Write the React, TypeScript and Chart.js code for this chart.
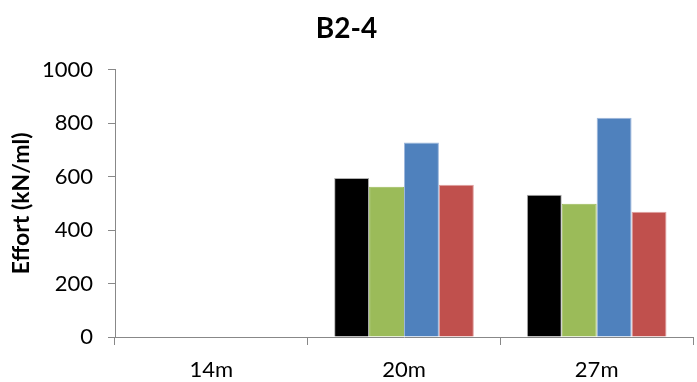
import React, { useEffect, useRef } from "react";
import { Chart, registerables } from "chart.js";

Chart.register(...registerables);

const categories = ["14m", "20m", "27m"];
const seriesBlack = [null, 595, 532];
const seriesGreen = [null, 562, 498];
const seriesBlue = [null, 727, 820];
const seriesRed = [null, 569, 468];
const yTicks = [0, 200, 400, 600, 800, 1000];

const FONT = "Lato, 'Open Sans', sans-serif";

export default function App() {
  const ref = useRef<HTMLCanvasElement>(null);
  useEffect(() => {
    document.body.style.margin = "0";
    const ctx = ref.current!;
    const mk = (label: string, data: (number | null)[], color: string, border: string) => ({
      label,
      data,
      backgroundColor: color,
      borderColor: border,
      borderWidth: 1,
      barPercentage: 1,
      categoryPercentage: 0.725,
    });
    const chart = new Chart(ctx, {
      type: "bar",
      data: {
        labels: categories,
        datasets: [
          mk("A", seriesBlack, "#000000", "#b0b0b0"),
          mk("B", seriesGreen, "#9bbb59", "#9bbb59"),
          mk("C", seriesBlue, "#4f81bd", "#9db7dc"),
          mk("D", seriesRed, "#c0504d", "#e0a0a0"),
        ],
      },
      options: {
        animation: false,
        responsive: false,
        maintainAspectRatio: false,
        layout: { padding: { left: 0, right: 4, top: 0, bottom: 0 } },
        plugins: {
          legend: { display: false },
          tooltip: { enabled: false },
          title: {
            display: true,
            text: "B2-4",
            font: { family: FONT, size: 28, weight: "bold" },
            color: "#000",
            padding: { top: 12, bottom: 24 },
          },
        },
        scales: {
          x: {
            afterFit: (axis: any) => {
              axis.height = 45;
            },
            grid: {
              display: true,
              drawOnChartArea: false,
              drawTicks: true,
              tickLength: 8,
              color: "#888",
              offset: true,
            },
            border: { display: true, color: "#888", width: 1 },
            ticks: {
              font: { family: FONT, size: 22 },
              color: "#000",
              padding: 12,
            },
          },
          y: {
            min: 0,
            max: 1000,
            afterFit: (axis: any) => {
              axis.width = 115;
            },
            afterBuildTicks: (axis: any) => {
              axis.ticks = yTicks.map((v) => ({ value: v }));
            },
            grid: {
              display: true,
              drawOnChartArea: false,
              drawTicks: true,
              tickLength: 7,
              color: "#888",
            },
            border: { display: true, color: "#888", width: 1 },
            ticks: {
              font: { family: FONT, size: 22 },
              color: "#000",
              padding: 15,
              callback: (v: any) => String(v),
            },
            title: {
              display: true,
              text: "Effort (kN/ml)",
              font: { family: FONT, size: 23, weight: "bold" },
              color: "#000",
              padding: { top: 8, bottom: 0 },
            },
          },
        },
      },
    });
    return () => chart.destroy();
  }, []);
  return (
    <div style={{ position: "fixed", left: 0, top: 0, width: 697, height: 382, background: "#fff" }}>
      <canvas ref={ref} width={697} height={382} style={{ width: 697, height: 382 }} />
    </div>
  );
}
